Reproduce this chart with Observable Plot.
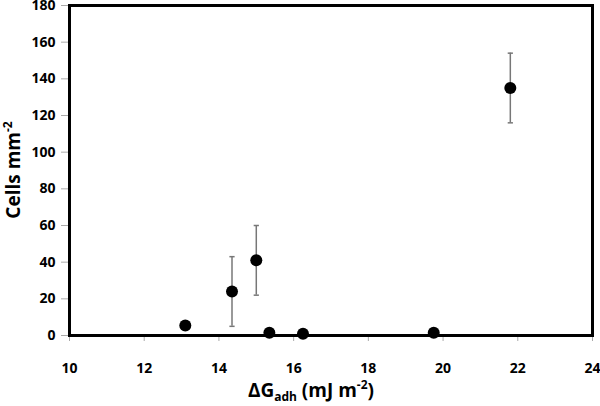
<!DOCTYPE html>
<html>
<head>
<meta charset="utf-8">
<script src="https://cdn.jsdelivr.net/npm/d3@7"></script>
<script src="https://cdn.jsdelivr.net/npm/@observablehq/plot@0.6"></script>
<style>
  html, body { margin: 0; padding: 0; background: #fff; }
  #chart svg { display: block; }
</style>
</head>
<body>
<div id="chart"></div>
<script>
const xValues = [13.1, 14.35, 15.0, 15.35, 16.25, 19.75, 21.8];
const yValues = [5.5, 24, 41, 1.5, 1, 1.5, 135];
const errValues = [0, 19, 19, 0, 0, 0, 19];
const xTicks = [10, 12, 14, 16, 18, 20, 22, 24];
const yTicks = [0, 20, 40, 60, 80, 100, 120, 140, 160, 180];

const data = xValues.map((x, i) => ({x, y: yValues[i], e: errValues[i]}));
const errData = data.filter(d => d.e > 0);
const capHalf = 0.07;

const font = "'Open Sans', 'DejaVu Sans', sans-serif";

const plot = Plot.plot({
  width: 600,
  height: 406,
  marginLeft: 69,
  marginRight: 8,
  marginTop: 5,
  marginBottom: 71,
  style: {fontFamily: font, fontSize: "14px", fontWeight: "bold", color: "#000", background: "#fff"},
  x: {domain: [10, 24], ticks: xTicks, label: null},
  y: {domain: [0, 180], ticks: yTicks, label: null},
  marks: [
    Plot.axisX({ticks: xTicks, tickSize: 6, tickPadding: 22, stroke: "#aaa", color: "#000", fontWeight: "bold", label: null, tickFormat: d => String(d)}),
    Plot.axisY({ticks: yTicks, tickSize: 8, tickPadding: 6, stroke: "#aaa", color: "#000", fontWeight: "bold", label: null, tickFormat: d => String(d)}),
    Plot.ruleX(errData, {x: "x", y1: d => d.y - d.e, y2: d => d.y + d.e, stroke: "#777", strokeWidth: 1.5}),
    Plot.link(errData, {x1: d => d.x - capHalf, x2: d => d.x + capHalf, y1: d => d.y + d.e, y2: d => d.y + d.e, stroke: "#777", strokeWidth: 1.5}),
    Plot.link(errData, {x1: d => d.x - capHalf, x2: d => d.x + capHalf, y1: d => d.y - d.e, y2: d => d.y - d.e, stroke: "#777", strokeWidth: 1.5}),
    Plot.frame({stroke: "#000", strokeWidth: 3}),
    Plot.dot(data, {x: "x", y: "y", r: 6, fill: "#000", stroke: "none"})
  ]
});

const svg = d3.select(plot);
// Y axis title
const yt = svg.append("text")
  .attr("transform", "translate(20,170) rotate(-90)")
  .attr("text-anchor", "middle")
  .attr("font-family", font)
  .attr("font-weight", "bold")
  .attr("font-size", 19)
  .attr("fill", "#000");
yt.append("tspan").text("Cells mm");
yt.append("tspan").attr("dy", -8).attr("font-size", 12).text("-2");

// X axis title
const xt = svg.append("text")
  .attr("x", 311)
  .attr("y", 397)
  .attr("text-anchor", "middle")
  .attr("font-family", font)
  .attr("font-weight", "bold")
  .attr("font-size", 19)
  .attr("fill", "#000");
xt.append("tspan").text("ΔG");
xt.append("tspan").attr("dy", 4).attr("font-size", 12).text("adh");
xt.append("tspan").attr("dy", -4).text(" (mJ m");
xt.append("tspan").attr("dy", -8).attr("font-size", 12).text("-2");
xt.append("tspan").attr("dy", 8).text(")");

document.getElementById("chart").appendChild(plot);
</script>
</body>
</html>
